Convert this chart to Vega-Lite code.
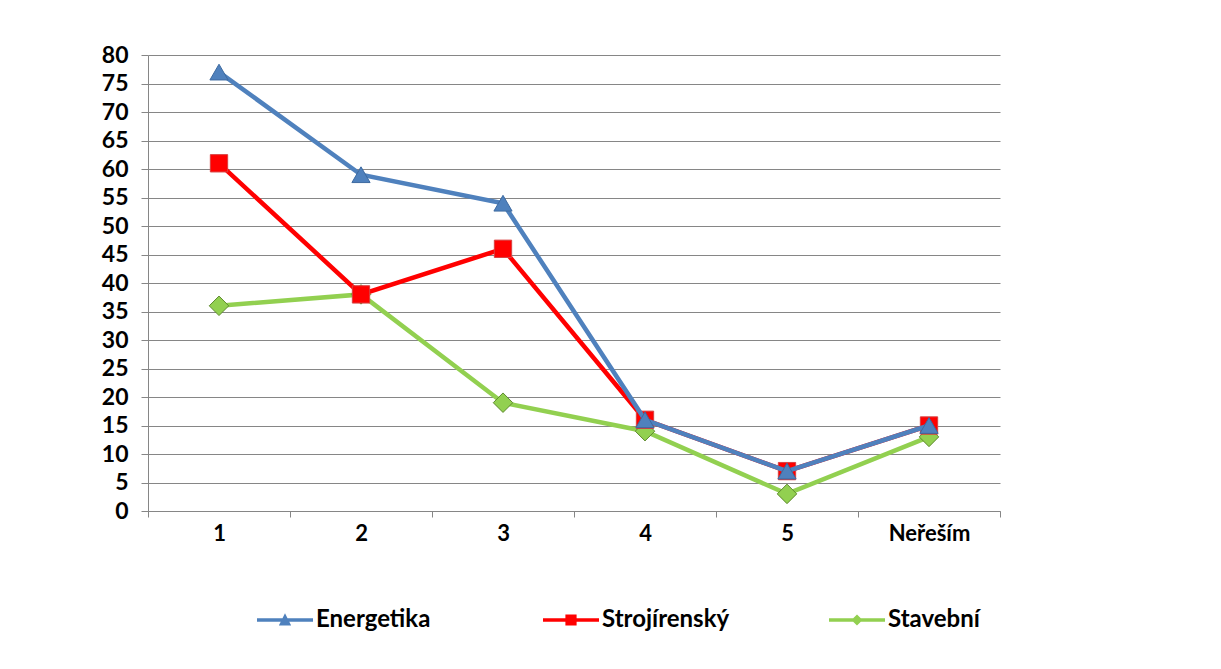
{
  "$schema": "https://vega.github.io/schema/vega-lite/v6.json",
  "width": 852,
  "height": 456,
  "autosize": {"type": "none"},
  "padding": {"left": 148, "top": 55, "right": 221, "bottom": 158},
  "background": "white",
  "config": {"view": {"stroke": null}, "font": "Lato"},
  "data": {
    "values": [
      {"category": "1", "series": "Energetika", "value": 77},
      {"category": "2", "series": "Energetika", "value": 59},
      {"category": "3", "series": "Energetika", "value": 54},
      {"category": "4", "series": "Energetika", "value": 16},
      {"category": "5", "series": "Energetika", "value": 7},
      {"category": "Neřeším", "series": "Energetika", "value": 15},
      {"category": "1", "series": "Strojírenský", "value": 61},
      {"category": "2", "series": "Strojírenský", "value": 38},
      {"category": "3", "series": "Strojírenský", "value": 46},
      {"category": "4", "series": "Strojírenský", "value": 16},
      {"category": "5", "series": "Strojírenský", "value": 7},
      {"category": "Neřeším", "series": "Strojírenský", "value": 15},
      {"category": "1", "series": "Stavební", "value": 36},
      {"category": "2", "series": "Stavební", "value": 38},
      {"category": "3", "series": "Stavební", "value": 19},
      {"category": "4", "series": "Stavební", "value": 14},
      {"category": "5", "series": "Stavební", "value": 3},
      {"category": "Neřeším", "series": "Stavební", "value": 13}
    ]
  },
  "encoding": {
    "x": {
      "field": "category",
      "type": "ordinal",
      "bandPosition": 0.5,
      "scale": {"type": "band", "domain": ["1", "2", "3", "4", "5", "Neřeším"], "paddingInner": 0, "paddingOuter": 0},
      "axis": {
        "title": null,
        "labelAngle": 0,
        "grid": false,
        "tickBand": "extent",
        "domainColor": "#868686",
        "tickColor": "#868686",
        "tickSize": 6,
        "labelPadding": 6,
        "labelFontSize": 22,
        "labelFontWeight": "bold",
        "labelColor": "#000000"
      }
    },
    "y": {
      "field": "value",
      "type": "quantitative",
      "scale": {"domain": [0, 80], "nice": false},
      "axis": {
        "title": null,
        "values": [0, 5, 10, 15, 20, 25, 30, 35, 40, 45, 50, 55, 60, 65, 70, 75, 80],
        "grid": true,
        "gridColor": "#868686",
        "gridWidth": 1,
        "domainColor": "#868686",
        "tickColor": "#868686",
        "tickSize": 7,
        "labelPadding": 13,
        "labelFontSize": 23,
        "labelFontWeight": "bold",
        "labelColor": "#000000"
      }
    },
    "color": {
      "field": "series",
      "type": "nominal",
      "scale": {
        "domain": ["Energetika", "Strojírenský", "Stavební"],
        "range": ["#4F81BD", "#FF0000", "#92D050"]
      },
      "legend": {
        "title": null,
        "orient": "none",
        "direction": "horizontal",
        "legendX": 109,
        "legendY": 537,
        "padding": 0,
        "gridAlign": "all",
        "columnPadding": 99,
        "symbolSize": 3136,
        "labelOffset": 3,
        "labelFontSize": 24,
        "labelFontWeight": "bold",
        "labelColor": "#000000",
        "labelLimit": 300,
        "encode": {
          "symbols": {
            "update": {
              "shape": {"signal": "datum.value === 'Energetika' ? 'M-1,-0.065H1V0.065H-1Z M0,-0.24L0.22,0.2L-0.22,0.2Z' : datum.value === 'Strojírenský' ? 'M-1,-0.065H1V0.065H-1Z M-0.2,-0.2H0.2V0.2H-0.2Z' : 'M-1,-0.065H1V0.065H-1Z M0,-0.2L0.2,0L0,0.2L-0.2,0Z'"},
              "fill": {"signal": "scale('color', datum.value)"},
              "fillOpacity": {"value": 1},
              "stroke": {"value": "transparent"},
              "strokeWidth": {"value": 0},
              "opacity": {"value": 1}
            }
          }
        }
      }
    }
  },
  "layer": [
    {
      "transform": [{"filter": "datum.series === 'Stavební'"}],
      "mark": {"type": "line", "strokeWidth": 4.5}
    },
    {
      "transform": [{"filter": "datum.series === 'Stavební'"}],
      "mark": {"type": "point", "shape": "diamond", "filled": true, "size": 380, "opacity": 1, "stroke": "#5E8A2E", "strokeWidth": 1}
    },
    {
      "transform": [{"filter": "datum.series === 'Strojírenský'"}],
      "mark": {"type": "line", "strokeWidth": 4.5}
    },
    {
      "transform": [{"filter": "datum.series === 'Strojírenský'"}],
      "mark": {"type": "point", "shape": "square", "filled": true, "size": 300, "opacity": 1, "stroke": "#D84040", "strokeWidth": 1}
    },
    {
      "transform": [{"filter": "datum.series === 'Energetika'"}],
      "mark": {"type": "line", "strokeWidth": 4.5}
    },
    {
      "transform": [{"filter": "datum.series === 'Energetika'"}],
      "mark": {"type": "point", "shape": "triangle-up", "filled": true, "size": 330, "opacity": 1, "stroke": "#3D6AA0", "strokeWidth": 1}
    }
  ]
}
